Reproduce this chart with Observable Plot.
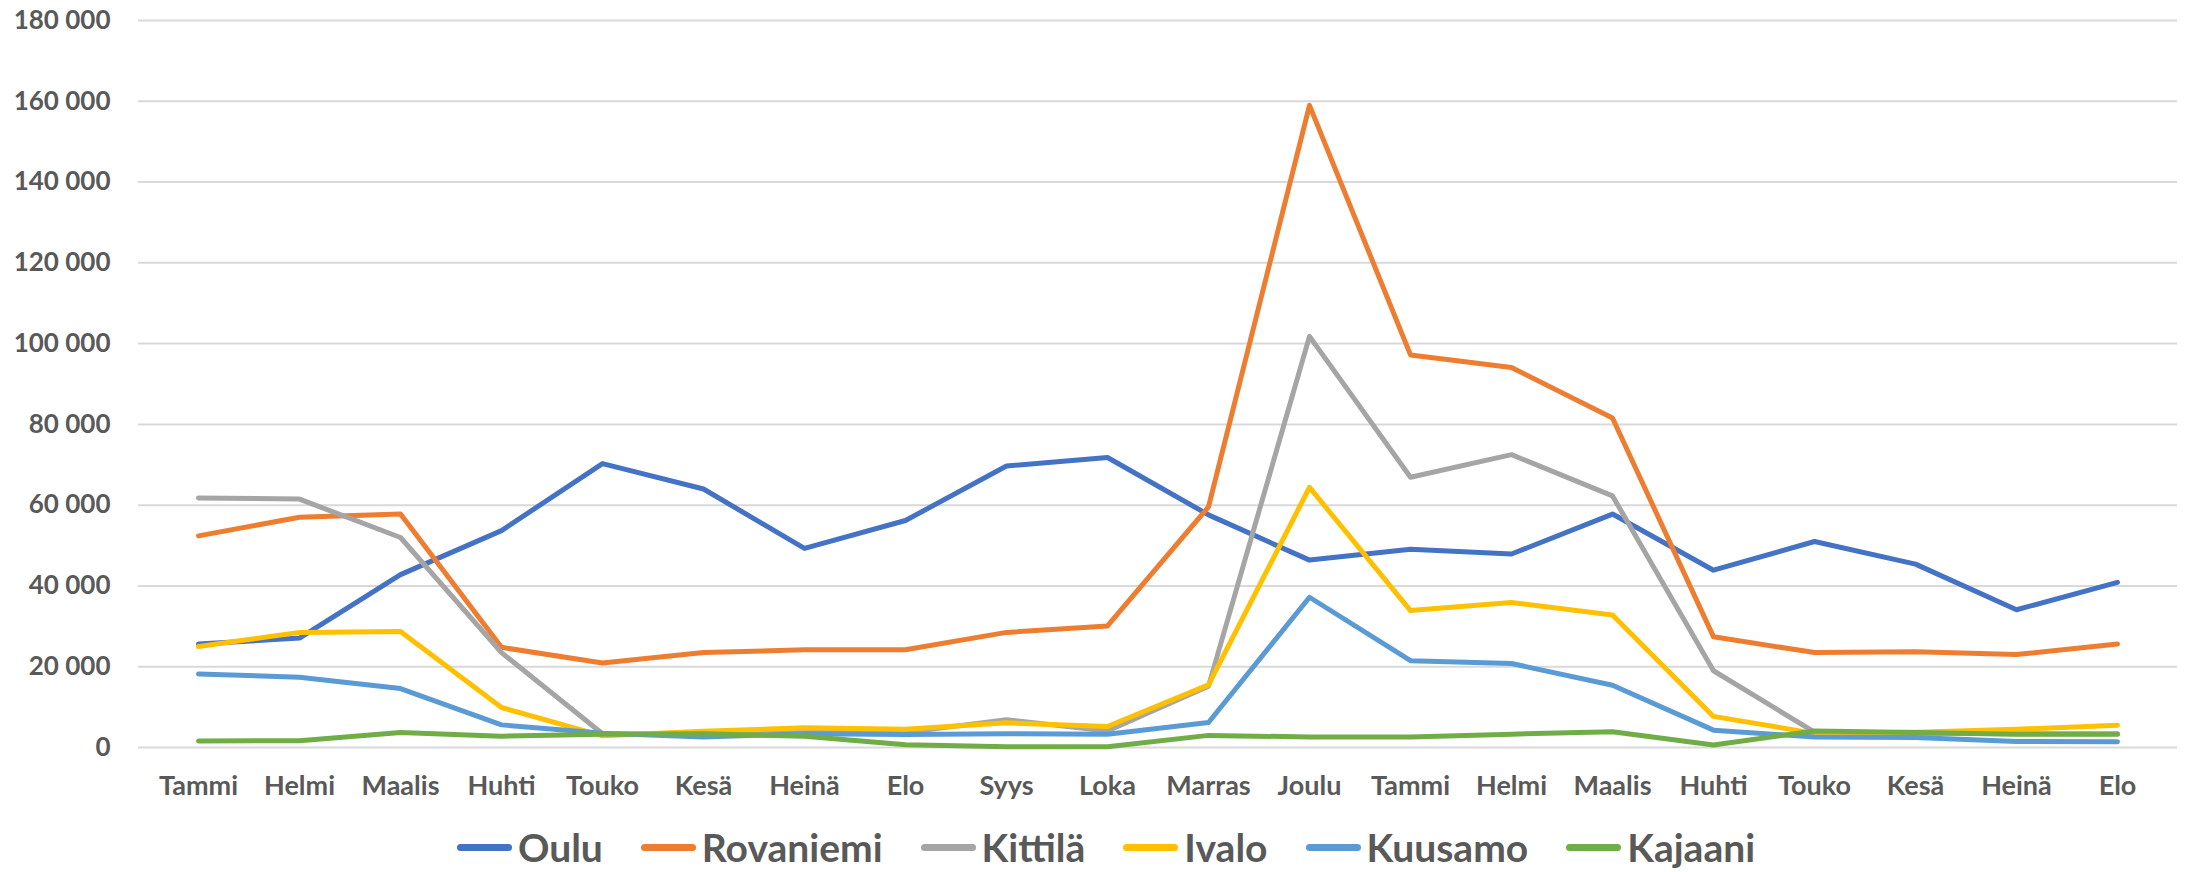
<!DOCTYPE html>
<html>
<head>
<meta charset="utf-8">
<script src="https://cdn.jsdelivr.net/npm/d3@7"></script>
<script src="https://cdn.jsdelivr.net/npm/@observablehq/plot@0.6"></script>
<style>
  html, body { margin: 0; padding: 0; background: #fff; }
  body { width: 2190px; height: 872px; overflow: hidden; font-family: Lato, "Open Sans", sans-serif; }
  #legend { display: flex; justify-content: center; align-items: center; height: 62px; padding-left: 22px; padding-top: 12px; box-sizing: border-box; }
  .item { display: flex; align-items: center; margin: 0 19px; font-weight: bold; font-size: 39px; color: #595959; }
  .swatch { width: 55px; height: 7px; border-radius: 3.5px; margin-right: 6px; }
</style>
</head>
<body>
<div id="chart"></div>
<div id="legend"></div>
<script>
const months = ["Tammi","Helmi","Maalis","Huhti","Touko","Kesä","Heinä","Elo","Syys","Loka","Marras","Joulu","Tammi","Helmi","Maalis","Huhti","Touko","Kesä","Heinä","Elo"];
const cities = ["Oulu","Rovaniemi","Kittilä","Ivalo","Kuusamo","Kajaani"];
const colors = ["#4472C4","#ED7D31","#A5A5A5","#FFC000","#5B9BD5","#70AD47"];
const yTicks = [0,20000,40000,60000,80000,100000,120000,140000,160000,180000];

const oulu      = [25600,27100,42800,53700,70300,64000,49300,56200,69700,71800,57600,46400,49100,47900,57800,43900,51000,45400,34100,40900];
const rovaniemi = [52400,57000,57800,24800,20900,23500,24200,24200,28500,30100,59600,159000,97200,94100,81600,27400,23500,23700,23000,25600];
const kittila   = [61800,61500,52000,23500,3400,3300,3700,3700,6900,4100,15200,101800,66900,72500,62300,19000,3800,3500,3400,3400];
const ivalo     = [25000,28500,28700,9900,2900,4000,4900,4500,6100,5200,15500,64400,33900,35900,32800,7700,3500,3800,4500,5500];
const kuusamo   = [18200,17400,14600,5600,3500,2600,3400,3200,3400,3300,6200,37200,21500,20800,15400,4300,2600,2500,1500,1400];
const kajaani   = [1600,1700,3700,2800,3300,3400,2800,700,200,200,3000,2600,2600,3300,3900,600,4100,3700,3300,3300];

const series = [oulu, rovaniemi, kittila, ivalo, kuusamo, kajaani];
const data = [];
series.forEach((vals, s) => vals.forEach((v, i) => data.push({city: cities[s], i, v})));

const fmt = d => d3.format(",")(d).replace(/,/g, " ");

const chart = Plot.plot({
  width: 2190,
  height: 810,
  marginLeft: 138,
  marginRight: 13,
  marginTop: 20,
  marginBottom: 63,
  style: {fontFamily: "Lato, sans-serif", fontWeight: "bold", color: "#595959", background: "#fff"},
  x: {type: "point", domain: d3.range(months.length), padding: 0.5},
  y: {domain: [0, 180000]},
  color: {domain: cities, range: colors},
  marks: [
    Plot.ruleY(yTicks, {stroke: "#D9D9D9", strokeWidth: 2}),
    Plot.axisY({ticks: yTicks, tickSize: 0, tickPadding: 28, tickFormat: fmt, fontSize: 26, label: null}),
    Plot.axisX({tickSize: 0, tickPadding: 28, tickFormat: i => months[i], fontSize: 27, label: null}),
    Plot.line(data, {x: "i", y: "v", z: "city", stroke: "city", strokeWidth: 5, strokeLinejoin: "round", strokeLinecap: "round"})
  ]
});
document.getElementById("chart").appendChild(chart);

const legend = document.getElementById("legend");
cities.forEach((c, k) => {
  const item = document.createElement("div");
  item.className = "item";
  const sw = document.createElement("span");
  sw.className = "swatch";
  sw.style.background = colors[k];
  const t = document.createElement("span");
  t.textContent = c;
  item.appendChild(sw);
  item.appendChild(t);
  legend.appendChild(item);
});
</script>
</body>
</html>
